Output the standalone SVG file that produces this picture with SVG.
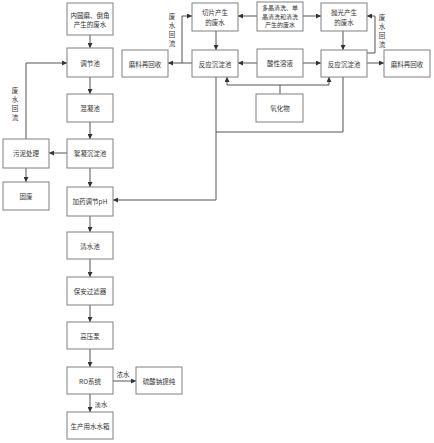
<svg xmlns="http://www.w3.org/2000/svg" width="434" height="443" viewBox="0 0 434 443">
<style>
.b{fill:#fff;stroke:#808080;stroke-width:1}
.t{font-family:"Noto Sans CJK SC","Noto Sans",sans-serif;font-size:6.5px;fill:#333;text-anchor:middle;dominant-baseline:central}
.s{font-size:6px}
.c{fill:none;stroke:#555;stroke-width:1}
</style>
<defs>
<marker id="a" viewBox="0 0 6 6" refX="6" refY="3" markerWidth="5" markerHeight="5" orient="auto" markerUnits="userSpaceOnUse">
<path d="M0,0 L6,3 L0,6 z" fill="#333"/>
</marker>
</defs>
<rect width="434" height="443" fill="#fff"/>
<g id="connectors">
<path class="c" d="M90,35 V48" marker-end="url(#a)"/>
<path class="c" d="M90,77 V94" marker-end="url(#a)"/>
<path class="c" d="M90,122 V139" marker-end="url(#a)"/>
<path class="c" d="M67,153 H49" marker-end="url(#a)"/>
<path class="c" d="M26,168 V182" marker-end="url(#a)"/>
<path class="c" d="M26,139 V63 H67" marker-end="url(#a)"/>
<path class="c" d="M90,168 V187" marker-end="url(#a)"/>
<path class="c" d="M90,216 V232" marker-end="url(#a)"/>
<path class="c" d="M90,259 V277" marker-end="url(#a)"/>
<path class="c" d="M90,305 V322" marker-end="url(#a)"/>
<path class="c" d="M90,349 V367" marker-end="url(#a)"/>
<path class="c" d="M90,394 V412" marker-end="url(#a)"/>
<path class="c" d="M113,381 H136" marker-end="url(#a)"/>
<path class="c" d="M216,31 V50" marker-end="url(#a)"/>
<path class="c" d="M343,31 V50" marker-end="url(#a)"/>
<path class="c" d="M257,16 H238" marker-end="url(#a)"/>
<path class="c" d="M303,16 H321" marker-end="url(#a)"/>
<path class="c" d="M257,63 H238" marker-end="url(#a)"/>
<path class="c" d="M303,63 H321" marker-end="url(#a)"/>
<path class="c" d="M192,63 H168" marker-end="url(#a)"/>
<path class="c" d="M182,63 V16 H192" marker-end="url(#a)"/>
<path class="c" d="M367,63 H384" marker-end="url(#a)"/>
<path class="c" d="M367,53 H375 V16 H367" marker-end="url(#a)"/>
<path class="c" d="M280,94 V85 H227 V77" marker-end="url(#a)"/>
<path class="c" d="M280,85 H329 V77" marker-end="url(#a)"/>
<path class="c" d="M343,77 V132 H216"/>
<path class="c" d="M216,77 V200 H113" marker-end="url(#a)"/>
</g>
<g id="n1"><rect class="b" x="67" y="3" width="46" height="32"/><text class="t" x="90" y="15">内圆磨、倒角</text><text class="t" x="90" y="24">产生的废水</text></g>
<g id="n2"><rect class="b" x="67" y="48" width="46" height="29"/><text class="t" x="90" y="63">调节池</text></g>
<g id="n3"><rect class="b" x="67" y="94" width="46" height="28"/><text class="t" x="90" y="108">混凝池</text></g>
<g id="n4"><rect class="b" x="67" y="139" width="46" height="29"/><text class="t" x="90" y="153">絮凝沉淀池</text></g>
<g id="n5"><rect class="b" x="3" y="139" width="46" height="29"/><text class="t" x="26" y="153">污泥处理</text></g>
<g id="n6"><rect class="b" x="3" y="182" width="46" height="28"/><text class="t" x="26" y="196">固废</text></g>
<g id="n7"><rect class="b" x="67" y="187" width="46" height="29"/><text class="t" x="90" y="201">加药调节pH</text></g>
<g id="n8"><rect class="b" x="67" y="232" width="46" height="27"/><text class="t" x="90" y="246">清水池</text></g>
<g id="n9"><rect class="b" x="67" y="277" width="46" height="28"/><text class="t" x="90" y="291">保安过滤器</text></g>
<g id="n10"><rect class="b" x="67" y="322" width="46" height="27"/><text class="t" x="90" y="336">高压泵</text></g>
<g id="n11"><rect class="b" x="67" y="367" width="46" height="27"/><text class="t" x="90" y="381">RO系统</text></g>
<g id="n12"><rect class="b" x="67" y="412" width="46" height="27"/><text class="t" x="90" y="426">生产用水水箱</text></g>
<g id="n13"><rect class="b" x="136" y="367" width="46" height="27"/><text class="t" x="159" y="381">硫酸钠提纯</text></g>
<g id="n14"><rect class="b" x="122" y="50" width="46" height="27"/><text class="t" x="145" y="64">磨料再回收</text></g>
<g id="n15"><rect class="b" x="192" y="50" width="46" height="27"/><text class="t" x="215" y="64">反应沉淀池</text></g>
<g id="n16"><rect class="b" x="192" y="3" width="46" height="28"/><text class="t" x="215" y="12">切片产生</text><text class="t" x="215" y="22">的废水</text></g>
<g id="n17"><rect class="b" x="257" y="2" width="46" height="29"/><text class="t s" x="280" y="7.5">多晶清洗、单</text><text class="t s" x="280" y="16">晶清洗和清洗</text><text class="t s" x="280" y="24.5">产生的废水</text></g>
<g id="n18"><rect class="b" x="321" y="3" width="46" height="28"/><text class="t" x="344" y="12">抛光产生</text><text class="t" x="344" y="22">的废水</text></g>
<g id="n19"><rect class="b" x="321" y="50" width="46" height="27"/><text class="t" x="344" y="64">反应沉淀池</text></g>
<g id="n20"><rect class="b" x="384" y="50" width="46" height="27"/><text class="t" x="407" y="64">磨料再回收</text></g>
<g id="n21"><rect class="b" x="257" y="49" width="46" height="28"/><text class="t" x="280" y="63">酸性溶液</text></g>
<g id="n22"><rect class="b" x="256" y="94" width="47" height="28"/><text class="t" x="280" y="108">氧化物</text></g>
<g id="labels">
<text class="t" x="15" y="90">废</text><text class="t" x="15" y="99">水</text><text class="t" x="15" y="108">回</text><text class="t" x="15" y="117">流</text>
<text class="t" x="172" y="16">废</text><text class="t" x="172" y="25">水</text><text class="t" x="172" y="34">回</text><text class="t" x="172" y="43">流</text>
<text class="t" x="382" y="17">废</text><text class="t" x="382" y="26">水</text><text class="t" x="382" y="35">回</text><text class="t" x="382" y="44">流</text>
<text class="t" x="123" y="374">浓水</text>
<text class="t" x="101" y="404">淡水</text>
</g>
</svg>
